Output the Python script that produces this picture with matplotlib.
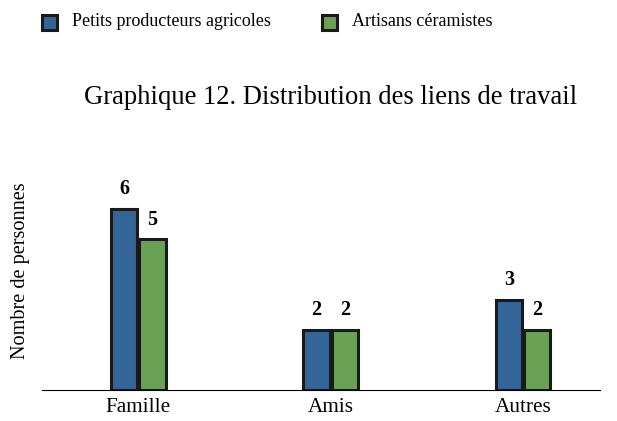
import matplotlib
matplotlib.use("Agg")
import matplotlib.pyplot as plt
import numpy as np
from matplotlib.patches import Rectangle

categories = ["Famille", "Amis", "Autres"]
series_names = ["Petits producteurs agricoles", "Artisans céramistes"]
agricoles = [6, 2, 3]
ceramistes = [5, 2, 2]
colors = ["#346598", "#6aa155"]

plt.rcParams['font.family'] = ['Liberation Serif', 'DejaVu Serif']

W, H = 617, 421
fig = plt.figure(figsize=(W/100, H/100), dpi=100)
ax = fig.add_axes([42/W, 1-390/H, (600-42)/W, 211/H])

x = np.arange(len(categories))
bw = 0.137
for i, (vals, c) in enumerate(zip([agricoles, ceramistes], colors)):
    offs = (i - 0.5) * (bw + 0.01)
    bars = ax.bar(x + offs, vals, bw, color=c, edgecolor="#1a1a1a", linewidth=2.2, zorder=3)
    for b, v in zip(bars, vals):
        ax.annotate(str(v), (b.get_x() + b.get_width()/2, v), xytext=(0, 7),
                    textcoords="offset points", ha="center", va="bottom",
                    fontsize=14.5, fontweight="bold")

ax.set_xlim(-0.5, 2.4)
ax.set_ylim(0, 7)
ax.set_xticks(x)
ax.set_xticklabels(categories, fontsize=15.3)
ax.tick_params(axis='x', length=0, pad=6)
ax.set_yticks([])
for s in ["top", "right", "left"]:
    ax.spines[s].set_visible(False)
ax.spines["bottom"].set_linewidth(0.8)
ax.set_ylabel("Nombre de personnes", fontsize=14.6, va="center")
ax.yaxis.set_label_coords((21-42)/558, (390-271)/211)

fig.text(331/W, 1-98/H, "Graphique 12. Distribution des liens de travail",
         ha="center", va="center", fontsize=19.2)

# legend
for (lx, tx, name, c) in [(42, 72, series_names[0], colors[0]), (322, 352, series_names[1], colors[1])]:
    fig.patches.append(Rectangle((lx/W, 1-30/H), 15/W, 15/H, transform=fig.transFigure,
                                 facecolor=c, edgecolor="#1a1a1a", linewidth=2.2))
    fig.text(tx/W, 1-22/H, name, ha="left", va="center", fontsize=13)

fig.savefig("out.png", dpi=100)
